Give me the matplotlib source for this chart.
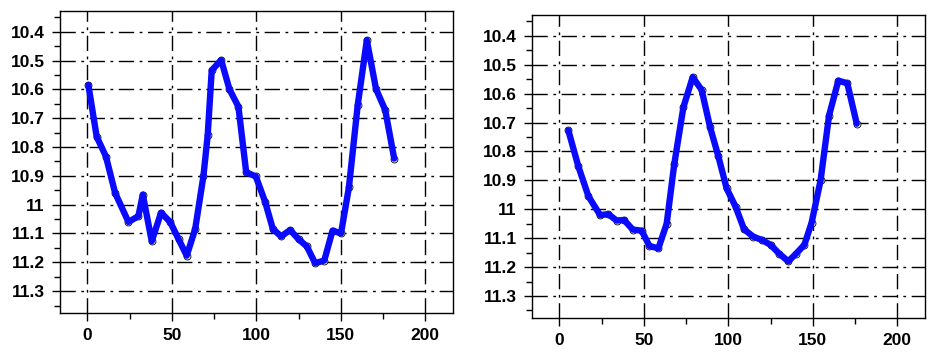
import matplotlib.pyplot as plt
from matplotlib.ticker import MultipleLocator, FormatStrFormatter

plt.rcParams['font.family'] = ['Liberation Sans', 'DejaVu Sans']

# left panel: days vs magnitude
days_a = [0.6, 5.5, 11, 16.4, 24.3, 30.2, 32.8, 38.1, 43.6, 49, 54, 58.8, 63.8,
          68.7, 71.2, 73.6, 79.2, 84.1, 89.4, 94, 99.7, 105.2, 109.8, 114.7,
          120, 125, 129.9, 134.8, 140.2, 145.1, 150.1, 154.8, 160, 165.4,
          170.8, 176.3, 181.6]
mag_a = [10.585, 10.764, 10.833, 10.959, 11.06, 11.04, 10.965, 11.127, 11.028,
         11.06, 11.12, 11.177, 11.085, 10.9, 10.76, 10.534, 10.498, 10.6, 10.66,
         10.888, 10.902, 10.99, 11.085, 11.11, 11.088, 11.12, 11.145, 11.203,
         11.194, 11.09, 11.1, 10.94, 10.655, 10.429, 10.598, 10.672, 10.84]

# right panel
days_b = [5.3, 11.2, 17.2, 24.1, 29, 33.9, 38.3, 43.4, 48.7, 53.3, 58.6, 63.5,
          68, 73.4, 78.9, 84.2, 89.2, 94.1, 99, 104.3, 109.3, 114.8, 119.9,
          125, 130.2, 135.5, 140, 145, 149.3, 154.6, 159.6, 165.1, 170.4, 176]
mag_b = [10.727, 10.851, 10.955, 11.02, 11.017, 11.039, 11.037, 11.07, 11.074,
         11.127, 11.135, 11.05, 10.844, 10.647, 10.543, 10.587, 10.716, 10.817,
         10.928, 10.991, 11.069, 11.095, 11.106, 11.123, 11.154, 11.18, 11.154,
         11.123, 11.046, 10.9, 10.676, 10.555, 10.564, 10.704]

fig = plt.figure(figsize=(9.4, 3.53), dpi=100)
ax1 = fig.add_axes([60 / 940, 1 - 313 / 353, 393 / 940, 302 / 353])
ax2 = fig.add_axes([532 / 940, 1 - 318 / 353, 393 / 940, 303 / 353])

for ax, x, y in [(ax1, days_a, mag_a), (ax2, days_b, mag_b)]:
    ax.plot(x, y, 'o', ms=5, mfc='white', mec='black', mew=0.6, zorder=3)
    ax.plot(x, y, '-', color='#0a0aff', lw=4.6, solid_joinstyle='round',
            solid_capstyle='round', zorder=4)
    ax.set_xlim(-16.2, 216.4)
    ax.set_ylim(11.376, 10.328)
    ax.xaxis.set_major_locator(MultipleLocator(50))
    ax.xaxis.set_minor_locator(MultipleLocator(25))
    ax.yaxis.set_major_locator(MultipleLocator(0.1))
    ax.yaxis.set_minor_locator(MultipleLocator(0.05))
    ax.yaxis.set_major_formatter(FormatStrFormatter('%g'))
    ax.grid(True, which='major', color='black', lw=1,
            linestyle=(0, (11, 4, 2, 4)))
    ax.tick_params(which='major', direction='out', length=6, width=1,
                   labelsize=12.5, pad=5)
    ax.tick_params(which='minor', direction='out', length=4, width=1)
    for lab in ax.get_xticklabels() + ax.get_yticklabels():
        lab.set_fontweight('bold')
    for s in ax.spines.values():
        s.set_linewidth(1)

fig.savefig('out.png', dpi=100)
